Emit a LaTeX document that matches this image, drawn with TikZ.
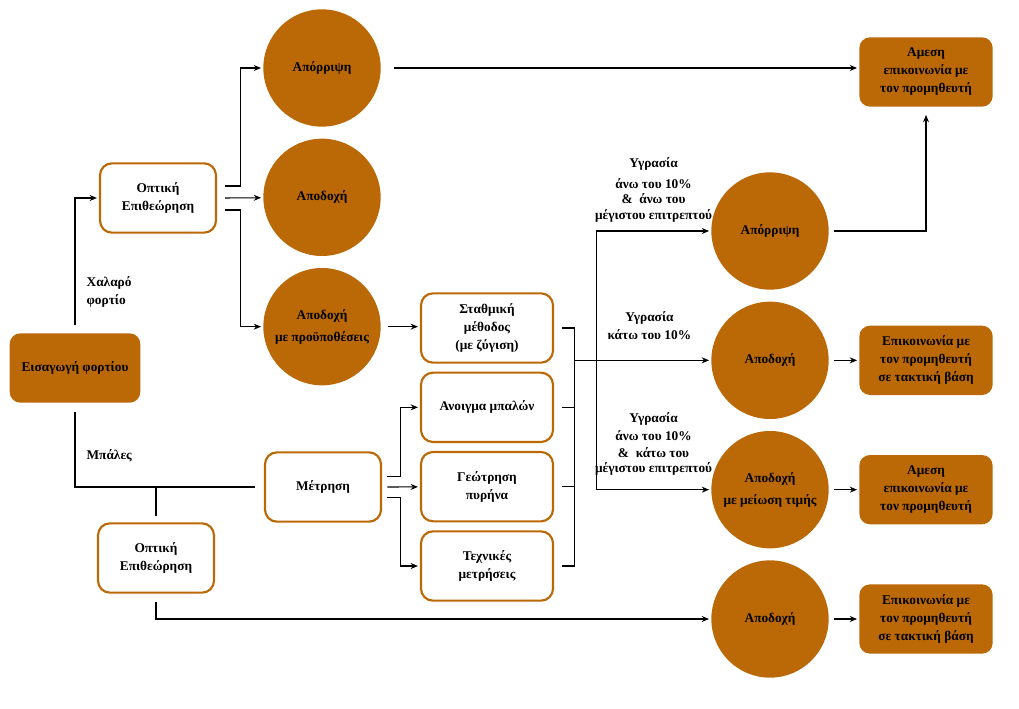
\documentclass[tikz,border=0pt]{standalone}
\usepackage{fontspec}
\setmainfont{Liberation Serif}
\usetikzlibrary{positioning, arrows.meta, shapes}
\definecolor{bronze}{RGB}{187,104,6}
\tikzstyle{entry} = [rectangle, rounded corners=8pt, minimum width=98pt, minimum height=52pt, text centered, align=center, fill=bronze]
\tikzstyle{process} = [rectangle, rounded corners=9pt, minimum width=87pt, minimum height=52pt, text centered, align=center, draw=bronze, line width=1.6pt, fill=white]
\tikzstyle{method} = [process, minimum width=99pt]
\tikzstyle{outcome} = [circle, minimum size=88pt, inner sep=0pt, text centered, align=center, fill=bronze]
\tikzstyle{action} = [rectangle, rounded corners=8pt, minimum width=100pt, minimum height=52pt, text centered, align=center, fill=bronze]
\tikzstyle{arrow} = [thick,->,>={Stealth[length=5.5pt, width=4.5pt]}, shorten >=1.5pt]
\tikzstyle{line} = [thick]
\tikzstyle{note} = [align=center]

\begin{document}
\begin{tikzpicture}[x=0.75pt, y=-0.75pt, node distance=97pt, font={\fontsize{10}{13.5}\selectfont\bfseries}]
    \useasboundingbox (0,0) rectangle (1019,709);

        % Nodes
        \node (load) [entry] at (75,368) {Εισαγωγή φορτίου};
        \node (insp1) [process] at (158,198) {Οπτική\\Επιθεώρηση};
        \node (insp2) [process] at (156,558) {Οπτική\\Επιθεώρηση};
        \node (reject1) [outcome] at (322,68) {Απόρριψη};
        \node (accept1) [outcome, below of=reject1] {Αποδοχή};
        \node (accept2) [outcome, below of=accept1] {Αποδοχή\\[3pt]με προϋποθέσεις};
        \node (measure) [process] at (323,487) {Μέτρηση};
        \node (weigh) [method] at (487,328) {Σταθμική\\μέθοδος\\(με ζύγιση)};
        \node (open) [method, below of=weigh, yshift=37.5pt] {Ανοιγμα μπαλών};
        \node (core) [method, below of=open, yshift=37.5pt] {Γεώτρηση\\πυρήνα};
        \node (tech) [method, below of=core, yshift=37.5pt] {Τεχνικές\\μετρήσεις};
        \node (reject2) [outcome] at (770,231) {Απόρριψη};
        \node (accept3) [outcome, below of=reject2] {Αποδοχή};
        \node (accept4) [outcome, below of=accept3] {Αποδοχή\\[3pt]με μείωση τιμής};
        \node (accept5) [outcome, below of=accept4] {Αποδοχή};
        \node (direct1) [action] at (926,72) {Αμεση\\επικοινωνία με\\τον προμηθευτή};
        \node (regular1) [action, right of=accept3, xshift=20pt] {Επικοινωνία με\\τον προμηθευτή\\σε τακτική βάση};
        \node (direct2) [action, right of=accept4, xshift=20pt] {Αμεση\\επικοινωνία με\\τον προμηθευτή};
        \node (regular2) [action, right of=accept5, xshift=20pt] {Επικοινωνία με\\τον προμηθευτή\\σε τακτική βάση};

        % Arrows
        \draw [arrow] ([yshift=6pt]load.north) |- (insp1.west) node[pos=0.13, right=5pt, align=left] {Χαλαρό\\φορτίο};
        \draw [line, shorten >=7pt] ([yshift=-7pt]load.south) |- (measure.west) node[pos=0.29, right=5pt] {Μπάλες};
        \draw [line] (insp2.north |- measure.west) -- ([yshift=5pt]insp2.north);
        \draw [arrow] ([yshift=-6pt]insp2.south) |- (accept5.west);
        \draw [arrow] ([xshift=6pt, yshift=9pt]insp1.east) -- ++(15,0) |- (reject1);
        \draw [arrow] ([xshift=6pt]insp1.east) -- (accept1);
        \draw [arrow] ([xshift=6pt, yshift=-9pt]insp1.east) -- ++(15,0) |- (accept2);
        \draw [arrow] ([xshift=10pt]reject1.east) -- (reject1.east -| direct1.west);
        \draw [arrow] ([xshift=5pt]accept2.east) -- (accept2.east -| weigh.west);
        \draw [arrow] ([xshift=4pt, yshift=8pt]measure.east) -- ++(13,0) |- (open);
        \draw [arrow] ([xshift=4pt]measure.east) -- (core);
        \draw [arrow] ([xshift=4pt, yshift=-8pt]measure.east) -- ++(13,0) |- (tech);

        % Humidity split
        \coordinate (bus) at ([xshift=15pt]weigh.east);
        \coordinate (split) at ([xshift=31.5pt]weigh.east);
        \draw [line] ([xshift=6pt]weigh.east) -| (bus |- tech.east) -- ([xshift=6pt]tech.east);
        \draw [line] ([xshift=6pt]open.east) -- (bus |- open.east);
        \draw [line] ([xshift=6pt]core.east) -- (bus |- core.east);
        \draw [arrow] (bus |- accept3) -- (accept3) node[note, pos=0.55, above=12pt] {Υγρασία\\κάτω του 10\%};
        \draw [arrow] (split |- accept4) |- (reject2) node[note, pos=0.75, above=3pt] {Υγρασία\\[2pt]άνω του 10\%\\[-2pt]\&\ \ άνω του\\[-2pt]μέγιστου επιτρεπτού};
        \draw [arrow] (split |- accept4) -- (accept4) node[note, midway, above=7pt] {Υγρασία\\άνω του 10\%\\[-1pt]\&\ \ κάτω του\\[-2pt]μέγιστου επιτρεπτού};

        % Suppliers
        \draw [arrow, shorten >=6pt] ([xshift=4pt]reject2.east) -| (direct1);
        \draw [arrow] ([xshift=4pt]accept3.east) -- (regular1);
        \draw [arrow] ([xshift=4pt]accept4.east) -- (direct2);
        \draw [arrow] ([xshift=4pt]accept5.east) -- (regular2);

    \end{tikzpicture}
\end{document}
